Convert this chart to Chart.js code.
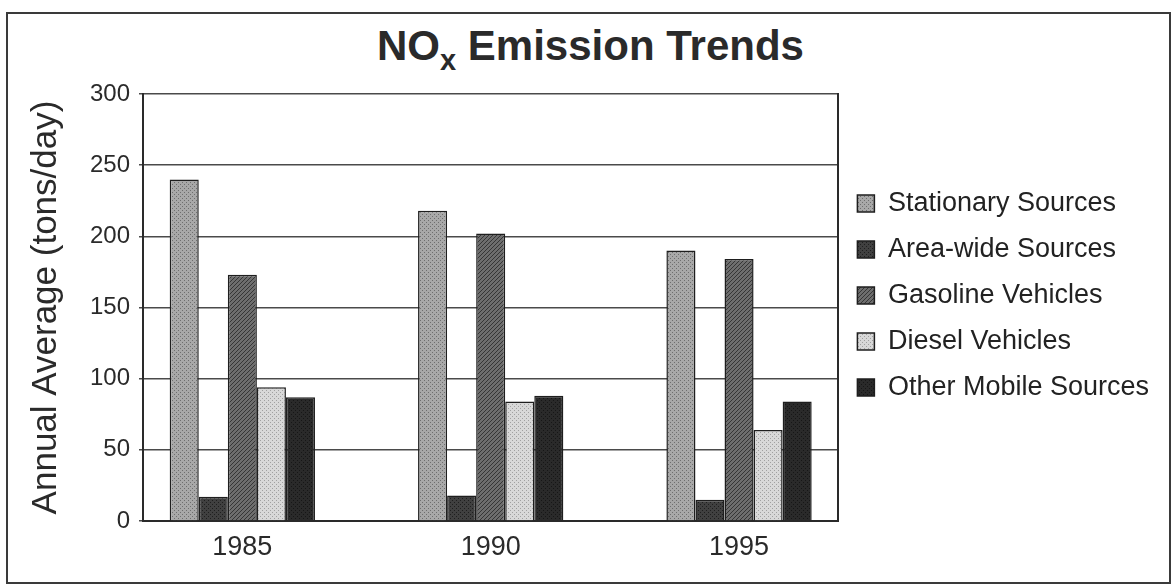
<!DOCTYPE html>
<html>
<head>
<meta charset="utf-8">
<script src="https://cdn.jsdelivr.net/npm/chart.js@4.4.1/dist/chart.umd.min.js"></script>
<style>
  html, body { margin: 0; padding: 0; background: #fff; }
  #wrap { position: relative; width: 1171px; height: 585px; }
  #frame { position: absolute; left: 6px; top: 12px; width: 1161px; height: 568px; border: 2px solid #3a3a3a; box-sizing: content-box; pointer-events: none; }
  #title { position: absolute; left: 0; width: 1181px; top: 22px; text-align: center;
           font-family: "Liberation Sans", Arial, sans-serif; font-weight: bold; font-size: 42px; color: #2a2a2a; }
  #title sub { font-size: 29px; vertical-align: -10px; line-height: 0; }
  canvas { position: absolute; left: 0; top: 0; }
</style>
</head>
<body>
<div id="wrap">
  <div id="frame"></div>
  <div id="title">NO<sub>x</sub> Emission Trends</div>
  <canvas id="c" width="1171" height="585"></canvas>
</div>
<script>
// ---- data ----
const years = [1985, 1990, 1995];
const seriesNames = ["Stationary Sources", "Area-wide Sources", "Gasoline Vehicles", "Diesel Vehicles", "Other Mobile Sources"];
const stationary = [240, 218, 190];
const areaWide   = [17, 18, 15];
const gasoline   = [173, 202, 184];
const diesel     = [94, 84, 64];
const otherMobile = [87, 88, 84];
const yTicks = [0, 50, 100, 150, 200, 250, 300];

// ---- textures ----
function makePattern(base, ink, kind) {
  const c = document.createElement('canvas');
  c.width = 4; c.height = 4;
  const g = c.getContext('2d');
  g.fillStyle = base; g.fillRect(0, 0, 4, 4);
  g.fillStyle = ink;
  if (kind === 'diag') {
    for (let i = 0; i < 4; i++) g.fillRect(i, 3 - i, 1, 1);
  } else if (kind === 'dots') {
    g.fillRect(0, 0, 1, 1); g.fillRect(2, 2, 1, 1);
  } else {
    g.fillRect(1, 0, 1, 1); g.fillRect(3, 2, 1, 1);
  }
  return g.createPattern(c, 'repeat');
}
const fills = [
  makePattern('#a8a8a8', '#6e6e6e', 'dots'),
  makePattern('#404040', '#1e1e1e', 'dots'),
  makePattern('#6e6e6e', '#363636', 'diag'),
  makePattern('#d8d8d8', '#a0a0a0', 'dots'),
  makePattern('#2a2a2a', '#161616', 'specks')
];

const seriesValues = [stationary, areaWide, gasoline, diesel, otherMobile];
const datasets = seriesNames.map((name, i) => ({
  label: name,
  data: years.map((yr, j) => ({ x: yr, y: seriesValues[i][j] })),
  backgroundColor: fills[i],
  borderColor: '#1e1e1e',
  borderWidth: 1.5,
  categoryPercentage: 0.585,
  barPercentage: 1.0
}));

const regular = '"Liberation Sans", Arial, sans-serif';

new Chart(document.getElementById('c'), {
  type: 'bar',
  data: { datasets },
  options: {
    responsive: false,
    animation: false,
    layout: { padding: { top: 23, left: 8, right: 12, bottom: 17 } },
    plugins: {
      title: { display: false },
      tooltip: { enabled: false },
      legend: {
        position: 'right',
        align: 'center',
        maxWidth: 331,
        labels: {
          boxWidth: 17, boxHeight: 17,
          padding: 19,
          color: '#222',
          font: { family: regular, size: 27 }
        }
      }
    },
    scales: {
      x: {
        type: 'linear',
        bounds: 'data',
        offset: false,
        min: 1983,
        max: 1997,
        afterBuildTicks: (scale) => { scale.ticks = years.map(v => ({ value: v })); },
        afterFit: (scale) => { scale.height = 47; },
        grid: { display: false, drawTicks: false },
        border: { display: true, color: '#2a2a2a', width: 2 },
        ticks: {
          color: '#2a2a2a',
          padding: 10,
          font: { family: regular, size: 27 },
          callback: (v) => String(v)
        }
      },
      xTop: {
        type: 'linear',
        position: 'top',
        min: 0, max: 1,
        afterFit: (scale) => { scale.height = 71; },
        grid: { display: false, drawTicks: false },
        border: { display: false },
        ticks: { display: false }
      },
      y: {
        min: 0, max: 300,
        afterBuildTicks: (scale) => { scale.ticks = yTicks.map(v => ({ value: v })); },
        afterFit: (scale) => { scale.width = 135; },
        grid: { color: '#4a4a4a', lineWidth: 1.5, tickLength: 4, drawTicks: true },
        border: { display: true, color: '#2a2a2a', width: 2 },
        ticks: {
          color: '#2a2a2a',
          padding: 9,
          font: { family: regular, size: 24 }
        },
        title: {
          display: true,
          text: 'Annual Average (tons/day)',
          color: '#2a2a2a',
          font: { family: regular, size: 35 },
          padding: { top: 17, bottom: 0 }
        }
      },
      y2: {
        position: 'right',
        min: 0, max: 300,
        afterFit: (scale) => { scale.width = 0; },
        grid: { display: false, drawTicks: false },
        border: { display: true, color: '#2a2a2a', width: 2 },
        ticks: { display: false }
      }
    }
  }
});
</script>
</body>
</html>
